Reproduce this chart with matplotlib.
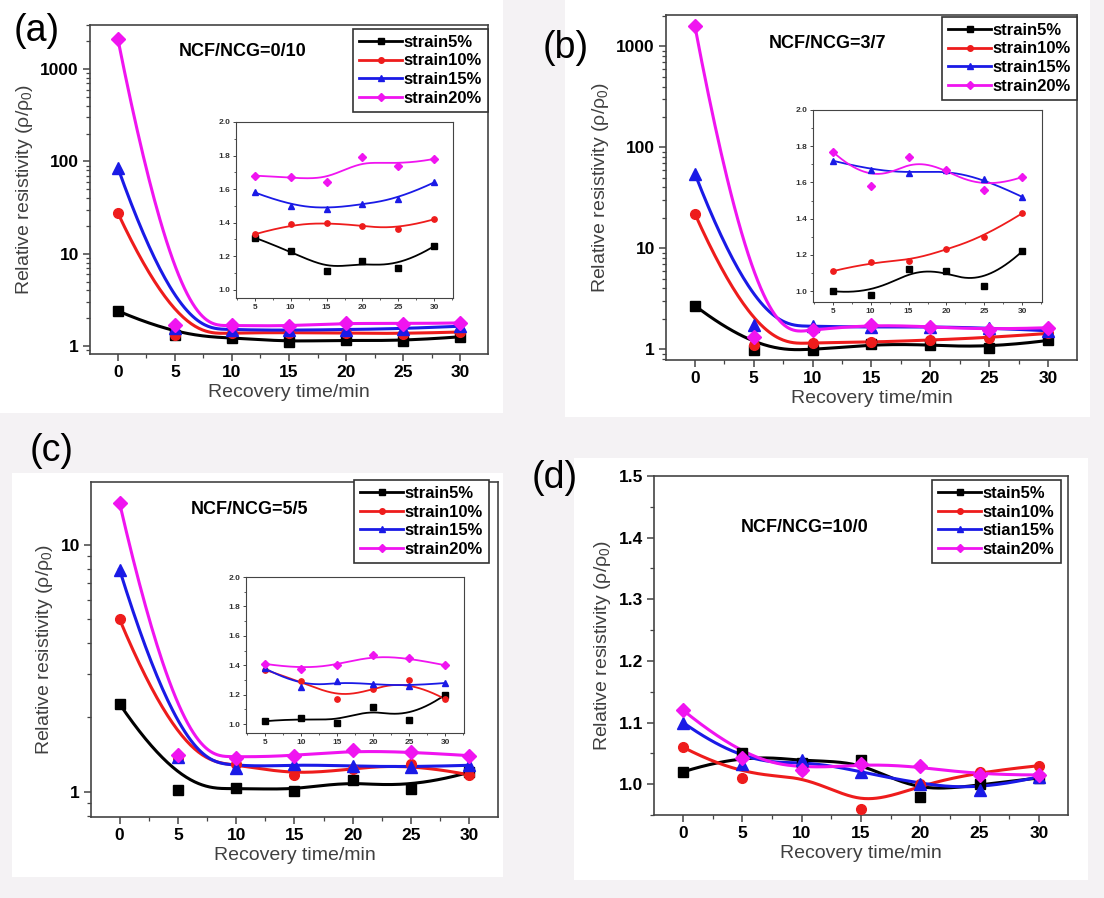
import numpy as np
import matplotlib
matplotlib.use('Agg')
import matplotlib.pyplot as plt
from matplotlib.patches import Rectangle
from matplotlib.ticker import FixedLocator, LogLocator, NullFormatter, MultipleLocator, FuncFormatter

W, H = 1104, 898

plt.rcParams['font.family'] = ['Liberation Sans', 'DejaVu Sans']
plt.rcParams['mathtext.fontset'] = 'custom'
plt.rcParams['mathtext.rm'] = 'Liberation Sans'
plt.rcParams['mathtext.it'] = 'Liberation Sans'
plt.rcParams['mathtext.bf'] = 'Liberation Sans:bold'

# recovery time (min)
t_main = [0, 5, 10, 15, 20, 25, 30]
t_in = [5, 10, 15, 20, 25, 30]

# (a) NCF/NCG = 0/10
a_s5 = [2.4, 1.31, 1.23, 1.11, 1.17, 1.13, 1.26]
a_s10 = [27.5, 1.33, 1.39, 1.40, 1.38, 1.36, 1.42]
a_s15 = [85, 1.58, 1.50, 1.48, 1.51, 1.54, 1.64]
a_s20 = [2100, 1.68, 1.67, 1.64, 1.79, 1.74, 1.78]
a_in_s5 = [1.31, 1.23, 1.11, 1.17, 1.13, 1.26]
a_in_s10 = [1.33, 1.39, 1.40, 1.38, 1.36, 1.42]
a_in_s15 = [1.58, 1.50, 1.48, 1.51, 1.54, 1.64]
a_in_s20 = [1.68, 1.67, 1.64, 1.79, 1.74, 1.78]

# (b) NCF/NCG = 3/7
b_s5 = [2.7, 0.97, 0.97, 1.12, 1.11, 1.03, 1.22]
b_s10 = [22, 1.10, 1.16, 1.17, 1.23, 1.30, 1.43]
b_s15 = [55, 1.74, 1.68, 1.65, 1.67, 1.62, 1.52]
b_s20 = [1600, 1.33, 1.56, 1.74, 1.67, 1.56, 1.63]
b_in_s5 = [1.00, 0.98, 1.12, 1.11, 1.03, 1.22]
b_in_s10 = [1.11, 1.16, 1.165, 1.23, 1.30, 1.43]
b_in_s15 = [1.72, 1.67, 1.65, 1.67, 1.62, 1.52]
b_in_s20 = [1.77, 1.58, 1.74, 1.67, 1.56, 1.63]

# (c) NCF/NCG = 5/5
c_s5 = [2.27, 1.02, 1.04, 1.01, 1.12, 1.03, 1.20]
c_s10 = [5.0, 1.37, 1.29, 1.17, 1.24, 1.30, 1.17]
c_s15 = [7.95, 1.38, 1.25, 1.29, 1.27, 1.26, 1.28]
c_s20 = [14.8, 1.41, 1.375, 1.40, 1.47, 1.45, 1.40]
c_in_s5 = [1.02, 1.04, 1.01, 1.12, 1.03, 1.20]
c_in_s10 = [1.37, 1.29, 1.17, 1.24, 1.30, 1.17]
c_in_s15 = [1.38, 1.25, 1.29, 1.27, 1.26, 1.28]
c_in_s20 = [1.41, 1.375, 1.40, 1.47, 1.45, 1.40]

# (d) NCF/NCG = 10/0
d_s5 = [1.02, 1.05, 1.035, 1.04, 0.98, 1.00, 1.01]
d_s10 = [1.06, 1.01, 1.023, 0.96, 1.00, 1.02, 1.03]
d_s15 = [1.10, 1.032, 1.04, 1.02, 1.00, 0.99, 1.012]
d_s20 = [1.12, 1.042, 1.023, 1.033, 1.029, 1.015, 1.015]

labels = ['strain5%', 'strain10%', 'strain15%', 'strain20%']
labels_d = ['stain5%', 'stain10%', 'stian15%', 'stain20%']
colors = ['black', '#ee1c1c', '#1a1ae6', '#f014f0']
markers = ['s', 'o', '^', 'D']
msizes = [7, 7, 8, 7]


def bspline(xs, ys, n=300, k=3):
    # clamped uniform B-spline with the data points as control points
    xs = np.asarray(xs, float)
    ys = np.asarray(ys, float)
    m = len(xs)
    knots = np.concatenate([np.zeros(k), np.linspace(0, 1, m - k + 1), np.ones(k)])
    u = np.linspace(0, 1, n)
    u[-1] -= 1e-9
    B = np.zeros((n, len(knots) - 1))
    for i in range(len(knots) - 1):
        B[:, i] = (knots[i] <= u) & (u < knots[i + 1])
    for d in range(1, k + 1):
        Bn = np.zeros((n, len(knots) - 1 - d))
        for i in range(len(knots) - 1 - d):
            left = 0.0
            right = 0.0
            den1 = knots[i + d] - knots[i]
            if den1 > 0:
                left = (u - knots[i]) / den1 * B[:, i]
            den2 = knots[i + d + 1] - knots[i + 1]
            if den2 > 0:
                right = (knots[i + d + 1] - u) / den2 * B[:, i + 1]
            Bn[:, i] = left + right
        B = Bn
    return B @ xs, B @ ys


def box(l, t, r, b):
    return [l / W, 1 - b / H, (r - l) / W, (b - t) / H]


def style(ax, small=False):
    for s in ax.spines.values():
        s.set_color('#444444')
        s.set_linewidth(0.8 if small else 1.2)
    if small:
        ax.tick_params(which='major', direction='out', length=2.5, width=0.7,
                       labelsize=6, colors='#444444', labelcolor='#333333', pad=1.5)
        ax.tick_params(which='minor', direction='out', length=1.5, width=0.6, colors='#444444')
    else:
        ax.tick_params(which='major', direction='out', length=5, width=1.1,
                       labelsize=12.5, colors='#444444', labelcolor='black', pad=3)
        ax.tick_params(which='minor', direction='out', length=3, width=0.9, colors='#444444')
    for lab in ax.get_xticklabels() + ax.get_yticklabels():
        lab.set_fontweight('bold')


def draw(ax, xs, series, log, lw, ms_scale, labs=None):
    for i, ys in enumerate(series):
        if log:
            sx, sy = bspline(xs, np.log10(ys))
            sy = 10 ** sy
        else:
            sx, sy = bspline(xs, ys)
        ax.plot(sx, sy, color=colors[i], lw=lw, zorder=2)
        ax.plot(xs, ys, ls='none', marker=markers[i], ms=msizes[i] * ms_scale,
                color=colors[i], zorder=3)
        if labs is not None:
            ax.plot([], [], color=colors[i], lw=2, marker=markers[i], ms=4, label=labs[i])


def legend(ax, x, y):
    leg = ax.legend(loc='upper left', bbox_to_anchor=(x / W, 1 - y / H),
                    bbox_transform=fig.transFigure, frameon=True, fancybox=False,
                    edgecolor='#333333', framealpha=1, borderpad=0.35,
                    labelspacing=0.22, handlelength=2.6, handletextpad=0.1,
                    borderaxespad=0, prop={'weight': 'bold', 'size': 12})
    leg.get_frame().set_linewidth(1.2)


def main_axes(rect, series, ylim, yticks, log, labs):
    ax = fig.add_axes(box(*rect))
    draw(ax, t_main, series, log, 2.2, 1.0, labs)
    ax.set_xlim(-2.45, 32.45)
    ax.xaxis.set_major_locator(FixedLocator([0, 5, 10, 15, 20, 25, 30]))
    ax.xaxis.set_minor_locator(MultipleLocator(2.5))
    if log:
        ax.set_yscale('log')
        ax.yaxis.set_major_locator(FixedLocator(yticks))
        ax.yaxis.set_major_formatter(FuncFormatter(lambda v, p: f'{v:g}'))
        ax.yaxis.set_minor_locator(LogLocator(subs=np.arange(2, 10), numticks=20))
        ax.yaxis.set_minor_formatter(NullFormatter())
    else:
        ax.yaxis.set_major_locator(FixedLocator(yticks))
        ax.yaxis.set_major_formatter(FuncFormatter(lambda v, p: f'{v:.1f}'))
        ax.yaxis.set_minor_locator(MultipleLocator(0.05))
    ax.set_ylim(*ylim)
    ax.set_xlabel('Recovery time/min', fontsize=14, color='#404040', labelpad=3)
    ax.set_ylabel(r'Relative resistivity ($\rho/\rho_0$)', fontsize=14, color='#404040', labelpad=4)
    style(ax)
    return ax


def inset_axes(rect, series, ylim):
    ax = fig.add_axes(box(*rect))
    ax.set_facecolor('white')
    draw(ax, t_in, series, False, 1.3, 0.55)
    ax.set_xlim(2.4, 32.6)
    ax.set_ylim(*ylim)
    ax.xaxis.set_major_locator(FixedLocator([5, 10, 15, 20, 25, 30]))
    ax.xaxis.set_minor_locator(MultipleLocator(2.5))
    ax.yaxis.set_major_locator(FixedLocator([1.0, 1.2, 1.4, 1.6, 1.8, 2.0]))
    ax.yaxis.set_major_formatter(FuncFormatter(lambda v, p: f'{v:.1f}'))
    ax.yaxis.set_minor_locator(MultipleLocator(0.1))
    style(ax, small=True)
    return ax


fig = plt.figure(figsize=(W / 100, H / 100), dpi=100, facecolor='#f4f2f4')

# white backgrounds of the four sub-pictures
for (l, t, r, b) in [(0, 0, 503, 413), (565, 0, 1090, 417), (12, 473, 503, 877), (574, 458, 1088, 880)]:
    fig.patches.append(Rectangle((l / W, 1 - b / H), (r - l) / W, (b - t) / H,
                                 transform=fig.transFigure, facecolor='white',
                                 edgecolor='none', zorder=-5))

# (a)
ax_a = main_axes((90, 25, 488, 354), [a_s5, a_s10, a_s15, a_s20], (0.82, 3000), [1, 10, 100, 1000], True, labels)
legend(ax_a, 353, 29)
inset_axes((236, 122, 453, 298), [a_in_s5, a_in_s10, a_in_s15, a_in_s20], (0.95, 2.0))

# (b)
ax_b = main_axes((666, 15, 1077, 360), [b_s5, b_s10, b_s15, b_s20], (0.78, 2050), [1, 10, 100, 1000], True, labels)
legend(ax_b, 942, 17)
inset_axes((813, 110, 1042, 302), [b_in_s5, b_in_s10, b_in_s15, b_in_s20], (0.94, 2.0))

# (c)
ax_c = main_axes((91, 482, 498, 817), [c_s5, c_s10, c_s15, c_s20], (0.79, 18), [1, 10], True, labels)
legend(ax_c, 354, 480)
inset_axes((246, 577, 464, 733), [c_in_s5, c_in_s10, c_in_s15, c_in_s20], (0.94, 2.0))

# (d)
ax_d = main_axes((654, 476, 1068, 815), [d_s5, d_s10, d_s15, d_s20], (0.95, 1.5),
                 [1.0, 1.1, 1.2, 1.3, 1.4, 1.5], False, labels_d)
legend(ax_d, 932, 480)

# composition labels
for s, x, y in [('NCF/NCG=0/10', 243, 52), ('NCF/NCG=3/7', 828, 43),
                ('NCF/NCG=5/5', 249, 510), ('NCF/NCG=10/0', 805, 528)]:
    fig.text(x / W, 1 - y / H, s, ha='center', va='center', fontsize=13, fontweight='bold')

# panel tags
for s, x, y in [('(a)', 37, 31), ('(b)', 566, 48), ('(c)', 52, 451), ('(d)', 555, 478)]:
    fig.text(x / W, 1 - y / H, s, ha='center', va='center', fontsize=27)

fig.savefig('out.png', dpi=100, facecolor=fig.get_facecolor())
